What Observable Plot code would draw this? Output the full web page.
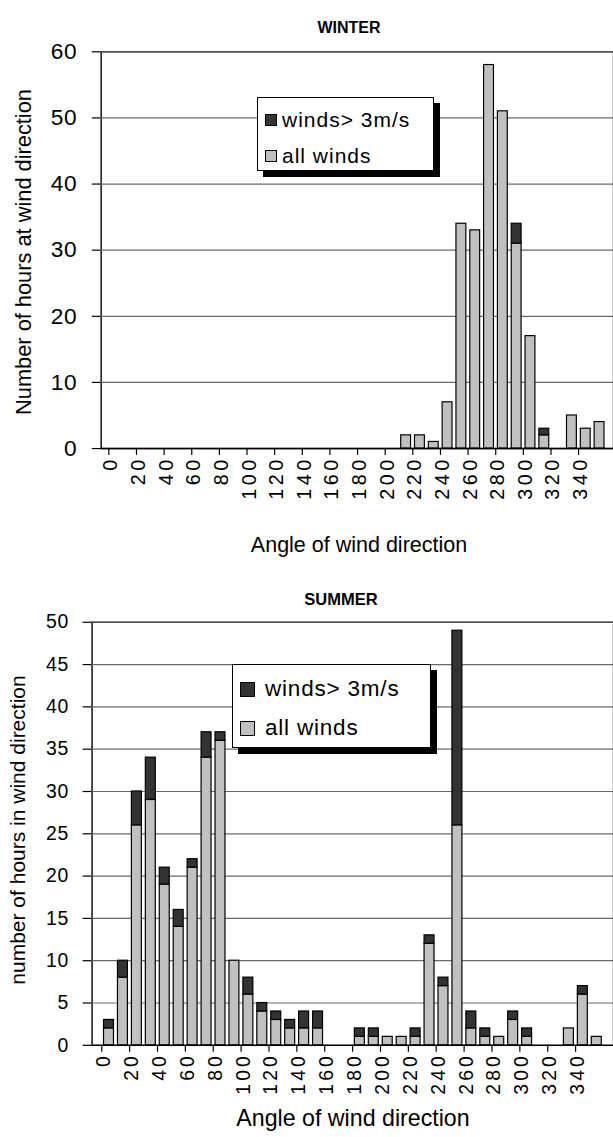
<!DOCTYPE html>
<html><head>
<meta charset="utf-8">
<script src="https://cdn.jsdelivr.net/npm/d3@7"></script>
<script src="https://cdn.jsdelivr.net/npm/@observablehq/plot@0.6"></script>
<style>
html,body{margin:0;padding:0;overflow:hidden;background:#fff;width:613px;height:1137px}
#root{position:relative;width:613px;height:1137px;font-family:"Liberation Sans",Arial,sans-serif;color:#000;overflow:hidden}
.abs{position:absolute;white-space:nowrap}
.title{font-weight:bold;transform:translate(-50%,-50%)}
.xt{transform:translate(-50%,-50%)}
.yt{transform:translate(-50%,-50%) rotate(-90deg)}
.legend{position:absolute;background:#fff;border:1px solid #000;box-shadow:6px 6px 0 #000;box-sizing:border-box}
.legend .row{position:absolute;left:7px;display:flex;align-items:center;white-space:nowrap}
.legend .sw{display:inline-block;border:1px solid #000;box-sizing:border-box}
svg{position:absolute;left:0;overflow:visible}
</style></head><body><div id="root"></div>
<script>
const angles = [0,10,20,30,40,50,60,70,80,90,100,110,120,130,140,150,160,170,180,190,200,210,220,230,240,250,260,270,280,290,300,310,320,330,340,350];
const labelAngles = [0,20,40,60,80,100,120,140,160,180,200,220,240,260,280,300,320,340];
const seriesNames = ["winds> 3m/s", "all winds"];
const seriesColors = ["#333333", "#c0c0c0"];

// WINTER
const winterAll  = [0,0,0,0,0,0,0,0,0,0,0,0,0,0,0,0,0,0,0,0,0,2,2,1,7,34,33,58,51,31,17,2,0,5,3,4];
const winterFast = [0,0,0,0,0,0,0,0,0,0,0,0,0,0,0,0,0,0,0,0,0,0,0,0,0,0,0,0,0,3,0,1,0,0,0,0];
const winterTicks = [0,10,20,30,40,50,60];

// SUMMER
const summerAll  = [2,8,26,29,19,14,21,34,36,10,6,4,3,2,2,2,0,0,1,1,1,1,1,12,7,26,2,1,1,3,1,0,0,2,6,1];
const summerFast = [1,2,4,5,2,2,1,3,1,0,2,1,1,1,2,2,0,0,1,1,0,0,1,1,1,23,2,1,0,1,1,0,0,0,1,0];
const summerTicks = [0,5,10,15,20,25,30,35,40,45,50];

function rows(all, fast) {
  const out = [];
  angles.forEach((a, i) => {
    if (all[i] > 0) out.push({angle: a, series: seriesNames[1], value: all[i]});
    if (fast[i] > 0) out.push({angle: a, series: seriesNames[0], value: fast[i]});
  });
  return out;
}

function chart({all, fast, ticks, yMax, top, marginLeft, step, plotH, marginTop, yFont, yPad, xFont, xSpacing}) {
  const width = marginLeft + step * angles.length;
  const pad = 0.32;
  const svg = Plot.plot({
    width, height: marginTop + plotH + 90,
    marginLeft, marginRight: 0, marginTop, marginBottom: 90,
    style: {fontFamily: '"Liberation Sans", Arial, sans-serif', fontSize: yFont + "px", color: "#000", background: "transparent", overflow: "visible"},
    x: {type: "band", domain: angles, paddingInner: pad, paddingOuter: pad / 2, align: 0.5, label: null},
    y: {domain: [0, yMax], label: null},
    color: {domain: seriesNames, range: seriesColors},
    marks: [
      Plot.frame({stroke: "#000", strokeWidth: 1.4}),
      Plot.gridY(ticks.filter(t => t > 0), {stroke: "#6a6a6a", strokeOpacity: 1, strokeWidth: 1.2}),
      Plot.barY(rows(all, fast), {x: "angle", y: "value", fill: "series", order: [seriesNames[1], seriesNames[0]], stroke: "#000", strokeWidth: 1.2}),
      Plot.ruleY([0], {stroke: "#000", strokeWidth: 1.4}),
      Plot.axisY({ticks, tickSize: 9, tickPadding: yPad, fontSize: yFont, label: null, stroke: "#000", strokeWidth: 1.2}),
      Plot.axisX({ticks: labelAngles, tickSize: 0, tickPadding: 8, tickRotate: -90, fontSize: xFont, dx: -5, label: null}),
      Plot.axisX({ticks: labelAngles, tickSize: 7, tickFormat: () => "", dx: -step / 2, label: null, stroke: "#000", strokeWidth: 1.2})
    ]
  });
  svg.querySelectorAll('g[aria-label="x-axis tick label"]').forEach(g => g.style.letterSpacing = xSpacing + "px");
  svg.querySelectorAll('g[aria-label="y-axis tick label"]').forEach(g => g.style.letterSpacing = "0.8px");
  svg.style.top = top + "px";
  return svg;
}

const root = document.getElementById("root");
root.appendChild(chart({all: winterAll, fast: winterFast, ticks: winterTicks, yMax: 60, top: 0, marginLeft: 102, step: 14.42, plotH: 402, marginTop: 52, yFont: 23, yPad: 15, xFont: 20, xSpacing: 3.5}));
root.appendChild(chart({all: summerAll, fast: summerFast, ticks: summerTicks, yMax: 50, top: 570, marginLeft: 92, step: 14.55, plotH: 425, marginTop: 52, yFont: 19.5, yPad: 14, xFont: 19.5, xSpacing: 3}));

function addText(cls, text, x, y, size, extra) {
  const d = document.createElement("div");
  d.className = "abs " + cls;
  d.textContent = text;
  d.style.left = x + "px"; d.style.top = y + "px"; d.style.fontSize = size + "px";
  if (extra) Object.assign(d.style, extra);
  root.appendChild(d);
}
addText("title", "WINTER", 349, 28, 16);
addText("title", "SUMMER", 341, 599, 16.5);
addText("yt", "Number of hours at wind direction", 24, 252, 21.8);
addText("yt", "number of hours in wind direction", 18, 830, 21);
addText("xt", "Angle of wind direction", 359, 545, 21.5);
addText("xt", "Angle of wind direction", 353, 1118, 23.2);

function legend(x, y, w, h, font, spacing, sw, gap, rowYs) {
  const L = document.createElement("div");
  L.className = "legend";
  Object.assign(L.style, {left: x + "px", top: y + "px", width: w + "px", height: h + "px"});
  seriesNames.forEach((name, i) => {
    const r = document.createElement("div");
    r.className = "row";
    r.style.top = rowYs[i] + "px";
    r.style.fontSize = font + "px";
    r.style.letterSpacing = spacing + "px";
    r.style.height = "0px";
    const s = document.createElement("span");
    s.className = "sw";
    Object.assign(s.style, {width: sw + "px", height: sw + "px", background: seriesColors[i], marginRight: gap + "px"});
    r.appendChild(s);
    r.appendChild(document.createTextNode(name));
    L.appendChild(r);
  });
  root.appendChild(L);
}
legend(257, 97, 177, 74, 21, 1, 12, 5, [22, 58]);
legend(232, 664, 199, 84, 22.5, 0.8, 15, 10, [24, 63]);
</script>
</body></html>
